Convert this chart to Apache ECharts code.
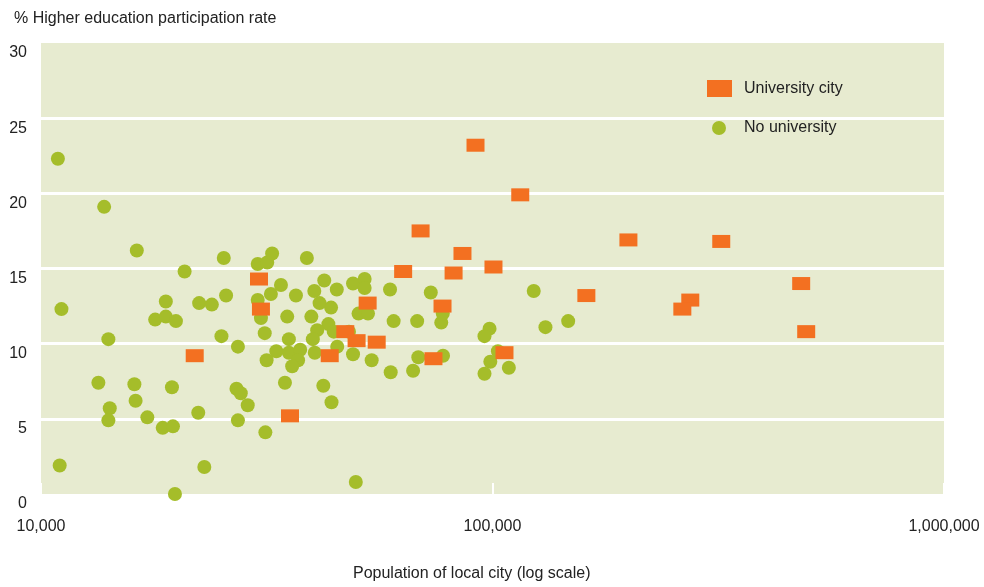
<!DOCTYPE html>
<html><head><meta charset="utf-8">
<script src="https://cdn.jsdelivr.net/npm/echarts@6/dist/echarts.min.js"></script>
<style>html,body{margin:0;padding:0;background:#fff}#c{width:984px;height:587px}</style>
</head><body><div id="c"></div>
<script>
const yTitle = '% Higher education participation rate';
const xTitle = 'Population of local city (log scale)';
const seriesNames = ['University city', 'No university'];
const yTicks = [0, 5, 10, 15, 20, 25, 30];
const xTicks = [10000, 100000, 1000000];

const uniPop = [91700,115200,69300,85800,200000,321100,63400,82000,100500,30400,482700,161400,274200,263300,30700,52900,77500,47200,50000,55400,495200,21900,43600,74000,106300,35600];
const uniRate = [23.2,19.9,17.5,16.0,16.9,16.8,14.8,14.7,15.1,14.3,14.0,13.2,12.9,12.3,12.3,12.7,12.5,10.8,10.2,10.1,10.8,9.2,9.2,9.0,9.4,5.2];

const noUniPop = [10900,13800,16300,25400,30200,31700,32500,38800,20800,42400,34000,32300,36700,40300,45200,49100,52100,52100,59300,73000,123400,18900,25700,22400,23900,30200,41400,43900,11100,17900,18900,19900,30700,35100,39700,43300,40900,25100,31300,35400,40000,44500,48100,14100,27300,33200,35400,37500,37100,36000,31600,40400,45300,49100,54000,59500,66700,68500,77700,60400,68100,77000,77600,50500,53000,98500,96000,102800,98900,96000,108700,131000,147100,13400,16100,19500,27100,27700,34700,42200,16200,14200,14100,17200,22300,28700,44000,18600,19600,27300,31400,11000,23000,19800,49800];
const noUniRate = [22.3,19.1,16.2,15.7,15.3,15.4,16.0,15.7,14.8,14.2,13.9,13.3,13.2,13.5,13.6,14.0,14.3,13.7,13.6,13.4,13.5,12.8,13.2,12.7,12.6,12.9,12.7,12.4,12.3,11.6,11.8,11.5,11.7,11.8,11.8,11.3,10.9,10.5,10.7,10.3,10.3,10.8,10.8,10.3,9.8,9.5,9.4,9.6,8.9,8.5,8.9,9.4,9.8,9.3,8.9,8.1,8.2,9.1,9.2,11.5,11.5,11.4,12.0,12.0,12.0,11.0,10.5,9.5,8.8,8.0,8.4,11.1,11.5,7.4,7.3,7.1,7.0,6.7,7.4,7.2,6.2,5.7,4.9,5.1,5.4,5.9,6.1,4.4,4.5,4.9,4.1,1.9,1.8,0.0,0.8];

const FONT = "'Liberation Sans', Arial, sans-serif";
const FS = 16;
const TXT = '#222222';
const GREEN = '#a5bd2a';
const ORANGE = '#f37021';
const BG = '#e7ebd0';

function pairs(xs, ys) { return xs.map((x, i) => [x, ys[i]]); }
function fmtThousands(v) { return String(Math.round(v)).replace(/\B(?=(\d{3})+(?!\d))/g, ','); }

const chart = echarts.init(document.getElementById('c'), null, { renderer: 'canvas' });
chart.setOption({
  animation: false,
  backgroundColor: '#ffffff',
  title: [
    { text: yTitle, left: 14, top: 11, padding: 0,
      textStyle: { fontSize: FS, fontWeight: 'normal', color: TXT, fontFamily: FONT } },
    { text: xTitle, left: 353, top: 566, padding: 0,
      textStyle: { fontSize: FS, fontWeight: 'normal', color: TXT, fontFamily: FONT } }
  ],
  legend: [
    { data: [{ name: seriesNames[0], icon: 'rect' }], left: 707, top: 80, padding: 0,
      itemWidth: 25, itemHeight: 17, selectedMode: false,
      textStyle: { fontSize: FS, color: TXT, fontFamily: FONT, padding: [0, 0, 0, 7] } },
    { data: [{ name: seriesNames[1], icon: 'circle' }], left: 712, top: 120, padding: 0,
      itemWidth: 14, itemHeight: 14, selectedMode: false,
      textStyle: { fontSize: FS, color: TXT, fontFamily: FONT, padding: [0, 0, 0, 13] } }
  ],
  grid: { left: 41, right: 40, top: 43, bottom: 93, show: true, backgroundColor: BG, borderWidth: 0,
    containLabel: false, outerBoundsMode: 'none' },
  xAxis: {
    type: 'log', logBase: 10, min: xTicks[0], max: xTicks[xTicks.length - 1],
    axisLine: { show: false },
    axisTick: { show: true, inside: true, length: 11, lineStyle: { color: '#ffffff', width: 2 } },
    minorTick: { show: false },
    splitLine: { show: false },
    axisLabel: { margin: 25, fontSize: FS, color: TXT, fontFamily: FONT,
      formatter: v => fmtThousands(v), showMinLabel: true, showMaxLabel: true }
  },
  yAxis: {
    type: 'value', min: yTicks[0], max: yTicks[yTicks.length - 1], interval: 5,
    axisLine: { show: false }, axisTick: { show: false },
    splitLine: { show: true, showMinLine: false, showMaxLine: false, lineStyle: { color: '#ffffff', width: 3 } },
    axisLabel: { margin: 14, fontSize: FS, color: TXT, fontFamily: FONT,
      verticalAlign: 'top', lineHeight: 20 }
  },
  series: [
    { name: seriesNames[1], type: 'scatter', clip: false, symbol: 'circle', symbolSize: 14,
      itemStyle: { color: GREEN, opacity: 1 }, data: pairs(noUniPop, noUniRate), z: 2 },
    { name: seriesNames[0], type: 'scatter', clip: false, symbol: 'rect', symbolSize: [18, 13],
      itemStyle: { color: ORANGE, opacity: 1 }, data: pairs(uniPop, uniRate), z: 3 }
  ]
});
</script>
</body></html>
